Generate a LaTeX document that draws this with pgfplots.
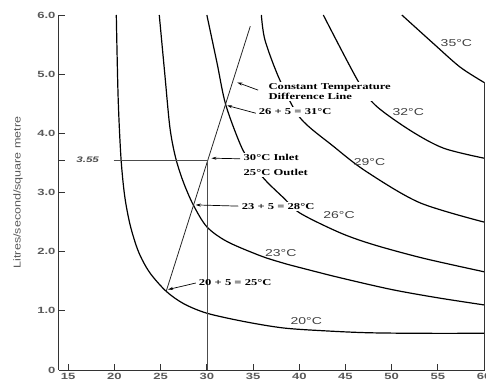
\documentclass[border=0pt]{standalone}
\usepackage{pgfplots}
\pgfplotsset{compat=1.18}
\usepackage{fontspec}
\setmainfont{Liberation Serif}
\newfontfamily\tickfont{Liberation Sans}[FakeStretch=1.45]
\newfontfamily\lblfont{Liberation Sans}[FakeStretch=1.4]
\newfontfamily\annfont{Liberation Serif}[FakeStretch=1.4]
\newfontfamily\ylfont{Liberation Sans}[FakeStretch=1.25]
\usetikzlibrary{arrows.meta}
\begin{document}
\begin{tikzpicture}
\begin{axis}[name=ax, scale only axis, width=426pt, height=355pt,
  xmin=14, xmax=60.1, ymin=0, ymax=6,
  axis x line=bottom, axis y line=left,
  axis line style={-, line width=1pt, black!80},
  xtick={15,20,...,60}, xticklabels={15,20,25,30,35,40,45,50,55,60},
  ytick={0,1,...,6}, yticklabels={0,1.0,2.0,3.0,4.0,5.0,6.0},
  tick align=inside, major tick length=6pt,
  tick style={line width=0.8pt, black!80},
  xticklabel style={font=\tickfont\bfseries\fontsize{9}{10}\selectfont, text=black!65},
  yticklabel style={font=\tickfont\bfseries\fontsize{9}{10}\selectfont, text=black!65},
  ylabel={Litres/second/square metre},
  every axis y label/.style={at={(axis description cs:0,0.5)}, rotate=90, anchor=center, yshift=41pt,
     font=\ylfont\fontsize{10}{12}\selectfont, text=black!65},
  clip=false]
% temperature curves
\addplot[black, line width=1.2pt, smooth, tension=0.5] coordinates {
 (20.2,6.0) (20.4,4.6) (20.7,3.6) (21.1,2.95) (21.7,2.45) (22.6,2.0) (23.8,1.65) (25.6,1.33) (27.5,1.12) (30,0.96) (34,0.82) (38.3,0.71) (43,0.66) (47.4,0.63) (53,0.62) (60,0.62)};
\addplot[black, line width=1.2pt, smooth, tension=0.5] coordinates {
 (24.85,6.0) (25.45,5.0) (26.0,4.1) (26.6,3.6) (27.4,3.2) (28.5,2.80) (30.0,2.42) (32.2,2.17) (35.8,1.93) (38.2,1.81) (40.1,1.73) (44.4,1.56) (50,1.36) (55,1.22) (60,1.10)};
\addplot[black, line width=1.2pt, smooth, tension=0.5] coordinates {
 (30.0,6.0) (31.1,5.19) (32.05,4.48) (33.8,3.75) (35.2,3.42) (36.5,3.18) (38.3,2.91) (40.1,2.65) (44.4,2.32) (48,2.12) (53.4,1.89) (60,1.66)};
\addplot[black, line width=1.2pt, smooth, tension=0.5] coordinates {
 (35.9,6.0) (36.3,5.57) (37.9,4.90) (40.1,4.26) (43.7,3.78) (47.2,3.36) (53.0,2.83) (60,2.50)};
\addplot[black, line width=1.2pt, smooth, tension=0.5] coordinates {
 (42.6,6.0) (46.3,4.90) (48.2,4.48) (52.0,4.05) (55.6,3.75) (60,3.58)};
\addplot[black, line width=1.2pt, smooth, tension=0.5] coordinates {
 (51.1,6.0) (54.5,5.52) (57.4,5.12) (60,4.86)};
% constant temperature difference line
\addplot[black!85, line width=0.8pt] coordinates {(25.6,1.33) (34.7,5.81)};
% inlet lines
\addplot[black!70, line width=0.7pt] coordinates {(19.9,3.55) (30,3.55)};
\addplot[black!70, line width=0.7pt] coordinates {(30,0) (30,3.55)};
\addplot[black!80, line width=0.8pt] coordinates {(14,3.55) (14.7,3.55)};
\addplot[black!80, line width=0.8pt] coordinates {(60.05,0) (60.05,4.86)};
% curve labels
\node[font=\lblfont\fontsize{10}{12}\selectfont, text=black!75] at (axis cs:40.76,0.83) {20°C};
\node[font=\lblfont\fontsize{10}{12}\selectfont, text=black!75] at (axis cs:38.0,1.97) {23°C};
\node[font=\lblfont\fontsize{10}{12}\selectfont, text=black!75] at (axis cs:44.3,2.62) {26°C};
\node[font=\lblfont\fontsize{10}{12}\selectfont, text=black!75] at (axis cs:47.6,3.52) {29°C};
\node[font=\lblfont\fontsize{10}{12}\selectfont, text=black!75] at (axis cs:51.8,4.36) {32°C};
\node[font=\lblfont\fontsize{10}{12}\selectfont, text=black!75] at (axis cs:57.0,5.53) {35°C};
\node[font=\tickfont\bfseries\itshape\fontsize{8}{9}\selectfont, text=black!70] at (axis cs:17.1,3.55) {3.55};
% annotations
\node[anchor=west, align=left, fill=white, inner sep=1.5pt, font=\annfont\bfseries\fontsize{9}{10}\selectfont] at (axis cs:36.5,4.71) {Constant Temperature\\Difference Line};
\node[anchor=west, fill=white, inner sep=1.5pt, font=\annfont\bfseries\fontsize{9}{10}\selectfont] at (axis cs:35.45,4.36) {26 + 5 = 31°C};
\node[anchor=west, align=left, fill=white, inner sep=1.5pt, font=\annfont\bfseries\fontsize{9}{15}\selectfont] at (axis cs:33.8,3.47) {30°C Inlet\\25°C Outlet};
\node[anchor=west, fill=white, inner sep=1.5pt, font=\annfont\bfseries\fontsize{9}{10}\selectfont] at (axis cs:33.6,2.77) {23 + 5 = 28°C};
\node[anchor=west, inner sep=1.5pt, font=\annfont\bfseries\fontsize{9}{10}\selectfont] at (axis cs:28.96,1.47) {20 + 5 = 25°C};
% arrows
\draw[-{Stealth[length=5pt,width=3pt]}, line width=0.7pt] (axis cs:35.55,4.73) -- (axis cs:33.3,4.86);
\draw[-{Stealth[length=5pt,width=3pt]}, line width=0.7pt] (axis cs:35.3,4.34) -- (axis cs:32.2,4.47);
\draw[-{Stealth[length=5pt,width=3pt]}, line width=0.7pt] (axis cs:33.6,3.57) -- (axis cs:30.5,3.58);
\draw[-{Stealth[length=5pt,width=3pt]}, line width=0.7pt] (axis cs:33.4,2.77) -- (axis cs:28.8,2.79);
\draw[-{Stealth[length=5pt,width=3pt]}, line width=0.7pt] (axis cs:28.8,1.47) -- (axis cs:25.8,1.36);
\end{axis}
\pgfresetboundingbox
\path ([xshift=-59pt,yshift=-15pt]ax.south west) rectangle ([xshift=1pt,yshift=15pt]ax.north east);
\end{tikzpicture}
\end{document}
